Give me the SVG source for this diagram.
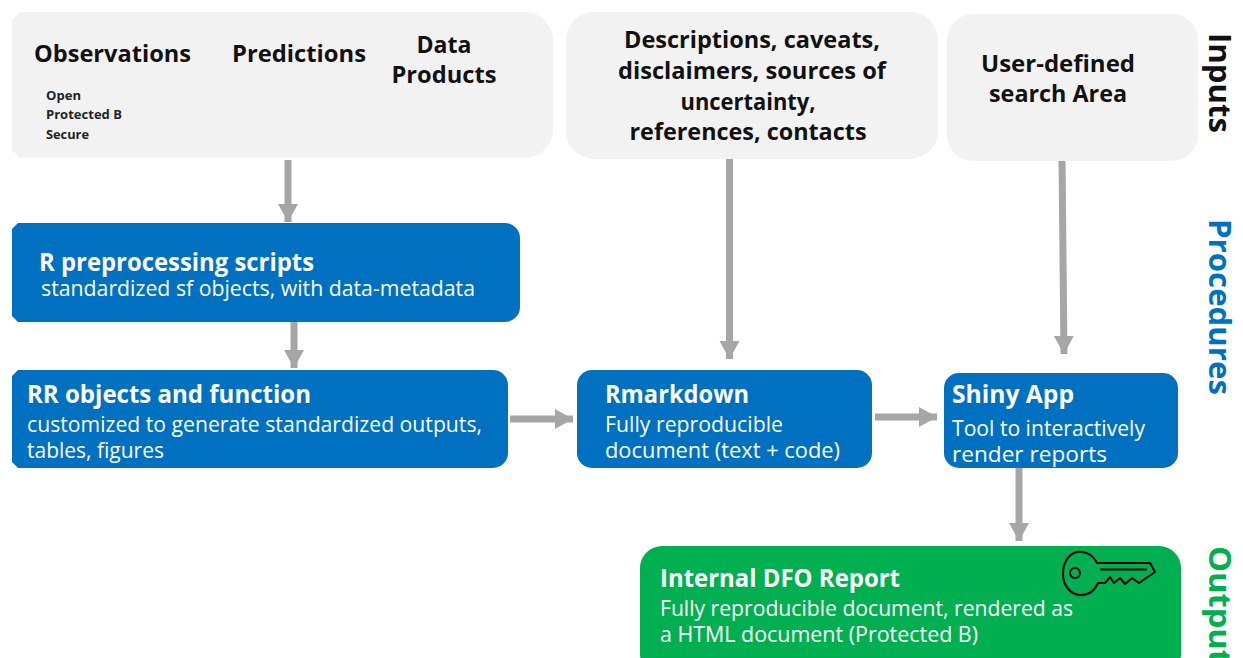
<svg xmlns="http://www.w3.org/2000/svg" width="1243" height="658" viewBox="0 0 1243 658">
<style>
text{font-family:"Open Sans","Noto Sans","Liberation Sans",sans-serif;}
.h{font-size:24px;font-weight:700;fill:#111}
.t{font-size:25px;font-weight:700;fill:#fff}
.b{font-size:21px;fill:#fff}
.s{font-size:12px;font-weight:700;fill:#222}
.side{font-size:31px;font-weight:700}
.c{text-anchor:middle}
.in{fill:#f2f2f2}.pr{fill:#0070c0}.ou{fill:#00b050}
.ln{stroke:#a6a6a6;stroke-width:7;fill:none;marker-end:url(#a)}
</style>
<defs><marker id="a" markerUnits="userSpaceOnUse" markerWidth="20" markerHeight="22" refX="18" refY="11" orient="auto"><path d="M0 1L18 11L0 21Z" fill="#a6a6a6"/></marker></defs>
<rect width="1243" height="658" fill="#fff"/>
<g id="connectors">
<path class="ln" d="M288 160V222"/>
<path class="ln" d="M294 322V368"/>
<path class="ln" d="M729.500 158V359"/>
<path class="ln" d="M1062 160L1064 354"/>
<path class="ln" d="M510 419H573"/>
<path class="ln" d="M875 417H937"/>
<path class="ln" d="M1019 468V541"/>
</g>
<g id="inputs1"><path class="in" d="M20 12H525a28 28 0 0 1 28 28V130a28 28 0 0 1-28 28H20L12 150V20Z"/>
<text class="h" x="34" y="62" textLength="157" lengthAdjust="spacingAndGlyphs">Observations</text>
<text class="h" x="232" y="62" textLength="134" lengthAdjust="spacingAndGlyphs">Predictions</text>
<text class="h c" x="444" y="53" textLength="55" lengthAdjust="spacingAndGlyphs">Data</text>
<text class="h c" x="444" y="83" textLength="105" lengthAdjust="spacingAndGlyphs">Products</text>
<text class="s" x="46" y="100" textLength="35" lengthAdjust="spacingAndGlyphs">Open</text>
<text class="s" x="46" y="119" textLength="76" lengthAdjust="spacingAndGlyphs">Protected B</text>
<text class="s" x="46" y="139" textLength="43" lengthAdjust="spacingAndGlyphs">Secure</text></g>
<g id="inputs2"><rect class="in" x="566" y="12" width="372" height="147" rx="28"/>
<text class="h c" x="752" y="48" textLength="256" lengthAdjust="spacingAndGlyphs">Descriptions, caveats,</text>
<text class="h c" x="752" y="79" textLength="268" lengthAdjust="spacingAndGlyphs">disclaimers, sources of</text>
<text class="h c" x="748" y="110" textLength="135" lengthAdjust="spacingAndGlyphs">uncertainty,</text>
<text class="h c" x="748" y="140" textLength="237" lengthAdjust="spacingAndGlyphs">references, contacts</text></g>
<g id="inputs3"><rect class="in" x="947" y="14" width="251" height="147" rx="26"/>
<text class="h c" x="1058" y="72" textLength="154" lengthAdjust="spacingAndGlyphs">User-defined</text>
<text class="h c" x="1058" y="102" textLength="138" lengthAdjust="spacingAndGlyphs">search Area</text></g>
<g id="preprocess"><path class="pr" d="M18 223H505a15 15 0 0 1 15 15V307a15 15 0 0 1-15 15H18L12 316V229Z"/>
<text class="t" x="39" y="271" textLength="275" lengthAdjust="spacingAndGlyphs">R preprocessing scripts</text>
<text class="b" x="41" y="296" textLength="434" lengthAdjust="spacingAndGlyphs">standardized sf objects, with data-metadata</text></g>
<g id="rr"><path class="pr" d="M18 370H493a15 15 0 0 1 15 15V453a15 15 0 0 1-15 15H18L12 462V376Z"/>
<text class="t" x="27" y="403" textLength="284" lengthAdjust="spacingAndGlyphs">RR objects and function</text>
<text class="b" x="27" y="432" textLength="455" lengthAdjust="spacingAndGlyphs">customized to generate standardized outputs,</text>
<text class="b" x="27" y="458" textLength="137" lengthAdjust="spacingAndGlyphs">tables, figures</text></g>
<g id="rmarkdown"><rect class="pr" x="577" y="370" width="295" height="98" rx="15"/>
<text class="t" x="605" y="403" textLength="144" lengthAdjust="spacingAndGlyphs">Rmarkdown</text>
<text class="b" x="605" y="432" textLength="178" lengthAdjust="spacingAndGlyphs">Fully reproducible</text>
<text class="b" x="605" y="458" textLength="235" lengthAdjust="spacingAndGlyphs">document (text + code)</text></g>
<g id="shiny"><rect class="pr" x="944" y="373" width="234" height="95" rx="15"/>
<text class="t" x="952" y="403" textLength="122" lengthAdjust="spacingAndGlyphs">Shiny App</text>
<text class="b" x="952" y="436" textLength="193" lengthAdjust="spacingAndGlyphs">Tool to interactively</text>
<text class="b" x="952" y="462" textLength="155" lengthAdjust="spacingAndGlyphs">render reports</text></g>
<g id="report"><rect class="ou" x="640" y="546" width="541" height="130" rx="22"/>
<text class="t" x="660" y="587" textLength="240" lengthAdjust="spacingAndGlyphs">Internal DFO Report</text>
<text class="b" x="660" y="616" textLength="413" lengthAdjust="spacingAndGlyphs">Fully reproducible document, rendered as</text>
<text class="b" x="660" y="642" textLength="318" lengthAdjust="spacingAndGlyphs">a HTML document (Protected B)</text>
<g id="key" fill="none" stroke="#000" stroke-width="2" stroke-linejoin="round">
<path d="M1097 563C1092 553 1083 551 1077 552C1068 554 1063 563 1063 574C1063 586 1071 595 1081 595C1088 595 1094 592 1098 583H1105L1110 577L1114 583L1120 578L1125 584L1132 578L1139 583L1155 572L1150 563Z"/>
<path d="M1100 569.500H1147"/>
<circle cx="1075" cy="573" r="5"/>
</g></g>
<text class="side" transform="translate(1209 33) rotate(90)" textLength="100" lengthAdjust="spacingAndGlyphs" fill="#111">Inputs</text>
<text class="side" transform="translate(1209 219) rotate(90)" textLength="176" lengthAdjust="spacingAndGlyphs" fill="#0070c0">Procedures</text>
<text class="side" transform="translate(1209 546) rotate(90)" textLength="118" lengthAdjust="spacingAndGlyphs" fill="#00b050">Output</text>
</svg>
